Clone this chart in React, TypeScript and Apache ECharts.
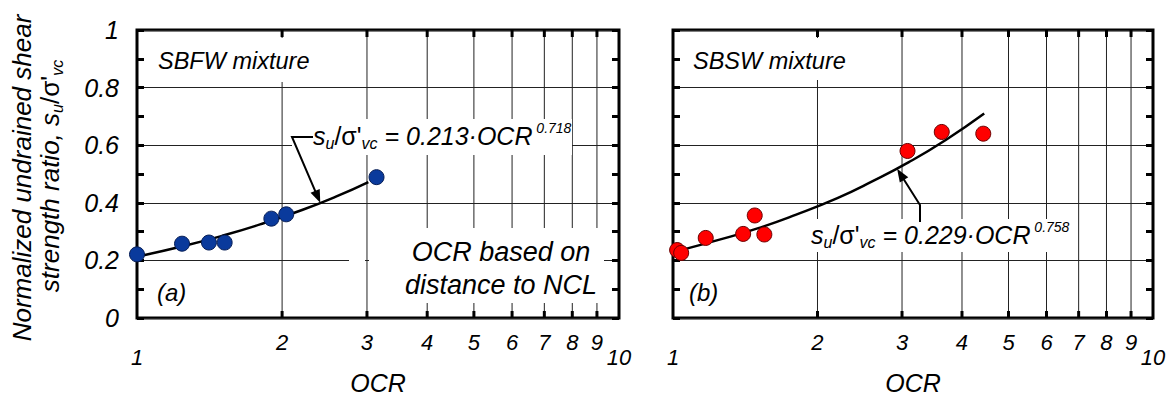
import React, { useEffect, useRef } from 'react';
import * as echarts from 'echarts';

const FONT = '"Liberation Sans", Arial, Helvetica, sans-serif';

// Panel (a): SBFW mixture
const sbfwOCR = [1.0, 1.24, 1.41, 1.52, 1.9, 2.04, 3.14];
const sbfwRatio = [0.221, 0.258, 0.262, 0.262, 0.345, 0.36, 0.489];
const sbfwFitOCR = [1.0, 1.25, 1.5, 1.8, 2.2, 2.6, 3.02];
const sbfwFitRatio = [0.213, 0.25, 0.285, 0.325, 0.375, 0.423, 0.472];

// Panel (b): SBSW mixture
const sbswOCR = [1.02, 1.04, 1.17, 1.4, 1.48, 1.55, 3.08, 3.63, 4.43];
const sbswRatio = [0.236, 0.226, 0.278, 0.292, 0.356, 0.29, 0.58, 0.646, 0.64];
const sbswFitOCR = [1.03, 1.25, 1.5, 1.8, 2.2, 2.6, 3.1, 3.7, 4.45];
const sbswFitRatio = [0.234, 0.272, 0.311, 0.358, 0.416, 0.474, 0.541, 0.618, 0.71];

// Axes
const xTickValues = [1, 2, 3, 4, 5, 6, 7, 8, 9, 10];
const xMin = 1;
const xMax = 10;
const yMin = 0;
const yMax = 1;
const yInterval = 0.2;

// arrow tips on the fit curves (OCR, ratio)
const arrowTipA = [2.4, 0.4];
const arrowTipB = [2.93, 0.518];

const zip = (a: number[], b: number[]) => a.map((v, i) => [v, b[i]]);

function xGridSeries(g: number) {
  return {
    type: 'custom',
    xAxisIndex: g,
    yAxisIndex: g * 2,
    clip: false,
    silent: true,
    z: 1,
    data: xTickValues.map((v) => [v, 0]),
    renderItem: (_params: any, api: any) => {
      const v = api.value(0);
      const bot = api.coord([v, yMin]);
      const top = api.coord([v, yMax]);
      const children: any[] = [];
      if (v > xMin && v < xMax) {
        children.push({
          type: 'line',
          shape: { x1: bot[0], y1: bot[1], x2: top[0], y2: top[1] },
          style: { stroke: '#222', lineWidth: 1 },
        });
        children.push({
          type: 'line',
          shape: { x1: bot[0], y1: bot[1], x2: bot[0], y2: bot[1] - 7 },
          style: { stroke: '#000', lineWidth: 3 },
        });
        children.push({
          type: 'line',
          shape: { x1: top[0], y1: top[1], x2: top[0], y2: top[1] + 7 },
          style: { stroke: '#000', lineWidth: 3 },
        });
      }
      const lower = v === xMin || v === xMax;
      children.push({
        type: 'text',
        x: bot[0],
        y: bot[1] + (lower ? 39 : 24),
        style: {
          text: String(v),
          fill: '#000',
          fontSize: 22,
          fontStyle: 'italic',
          fontFamily: FONT,
          align: 'center',
          verticalAlign: 'middle',
        },
      });
      return { type: 'group', children };
    },
  };
}

function yAxisDef(g: number, side: 'left' | 'right', labels: boolean) {
  return {
    gridIndex: g,
    type: 'value',
    min: yMin,
    max: yMax,
    interval: yInterval,
    position: side,
    axisLine: { show: false },
    axisTick: { show: true, inside: true, length: 7, lineStyle: { color: '#000', width: 3 } },
    minorTick: { show: true, splitNumber: 2, length: 7, lineStyle: { color: '#000', width: 3 } },
    axisLabel: {
      show: labels,
      color: '#000',
      fontSize: 25,
      fontStyle: 'italic',
      fontFamily: FONT,
      margin: 18,
    },
    splitLine: { show: side === 'left', lineStyle: { color: '#222', width: 1 } },
  };
}

function xAxisDef(g: number) {
  return {
    gridIndex: g,
    type: 'log',
    logBase: 10,
    min: xMin,
    max: xMax,
    axisLine: { show: false },
    axisTick: { show: false },
    axisLabel: { show: false },
    splitLine: { show: false },
  };
}

const richEq = (size: number) => ({
  i: { fontSize: size, fontStyle: 'italic', fontFamily: FONT, fill: '#000', lineHeight: 30 },
  n: { fontSize: size, fontStyle: 'normal', fontFamily: FONT, fill: '#000', lineHeight: 30 },
  sub: { fontSize: 16, fontStyle: 'italic', fontFamily: FONT, fill: '#000', lineHeight: 15, verticalAlign: 'bottom' },
  sup: { fontSize: 14, fontStyle: 'italic', fontFamily: FONT, fill: '#000', lineHeight: 13, verticalAlign: 'top' },
});

function buildOption() {
  return {
    animation: false,
    backgroundColor: '#fff',
    grid: [
      { left: 137, top: 30, width: 482, height: 288, show: true, borderColor: '#000', borderWidth: 3, containLabel: false },
      { left: 673, top: 30, width: 480, height: 288, show: true, borderColor: '#000', borderWidth: 3, containLabel: false },
    ],
    xAxis: [xAxisDef(0), xAxisDef(1)],
    yAxis: [
      yAxisDef(0, 'left', true),
      yAxisDef(0, 'right', false),
      yAxisDef(1, 'left', false),
      yAxisDef(1, 'right', false),
    ],
    series: [
      xGridSeries(0),
      xGridSeries(1),
      {
        type: 'line',
        xAxisIndex: 0,
        yAxisIndex: 0,
        data: zip(sbfwFitOCR, sbfwFitRatio),
        smooth: 0.5,
        showSymbol: false,
        lineStyle: { color: '#000', width: 2.5 },
        z: 70,
        silent: true,
      },
      {
        type: 'line',
        xAxisIndex: 1,
        yAxisIndex: 2,
        data: zip(sbswFitOCR, sbswFitRatio),
        smooth: 0.5,
        showSymbol: false,
        lineStyle: { color: '#000', width: 2.5 },
        z: 70,
        silent: true,
      },
      {
        type: 'scatter',
        xAxisIndex: 0,
        yAxisIndex: 0,
        data: zip(sbfwOCR, sbfwRatio),
        symbolSize: 15,
        itemStyle: { color: '#0a3a9c', borderColor: '#061d55', borderWidth: 1, opacity: 1 },
        z: 80,
        silent: true,
      },
      {
        type: 'scatter',
        xAxisIndex: 1,
        yAxisIndex: 2,
        data: zip(sbswOCR, sbswRatio),
        symbolSize: 15,
        itemStyle: { color: '#ff0000', borderColor: '#6b0000', borderWidth: 1, opacity: 1 },
        z: 80,
        silent: true,
      },
    ],
  };
}

function arrow(points: number[][], z: number) {
  const n = points.length;
  const tip = points[n - 1];
  const prev = points[n - 2];
  const dx = tip[0] - prev[0];
  const dy = tip[1] - prev[1];
  const len = Math.sqrt(dx * dx + dy * dy);
  const ux = dx / len;
  const uy = dy / len;
  const hl = 13;
  const hw = 5;
  const bx = tip[0] - ux * hl;
  const by = tip[1] - uy * hl;
  const body = points.slice(0, n - 1).concat([[bx + ux * 3, by + uy * 3]]);
  return [
    { type: 'polyline', z, silent: true, shape: { points: body }, style: { stroke: '#000', lineWidth: 2, fill: null } },
    {
      type: 'polygon',
      z,
      silent: true,
      shape: { points: [tip, [bx - uy * hw, by + ux * hw], [bx + uy * hw, by - ux * hw]] },
      style: { fill: '#000' },
    },
  ];
}

const mask = (x: number, y: number, w: number, h: number) => ({
  type: 'rect',
  z: 50,
  silent: true,
  shape: { x, y, width: w, height: h },
  style: { fill: '#fff' },
});

const txt = (x: number, y: number, text: string, size: number, extra: any = {}) => ({
  type: 'text',
  z: 60,
  silent: true,
  x,
  y,
  style: {
    text,
    fill: '#000',
    fontSize: size,
    fontStyle: 'italic',
    fontFamily: FONT,
    align: 'left',
    verticalAlign: 'middle',
    ...extra,
  },
});

export default function App() {
  const ref = useRef<HTMLDivElement>(null);
  useEffect(() => {
    const el = ref.current as HTMLDivElement;
    const chart = echarts.init(el, undefined, { renderer: 'svg' });
    chart.setOption(buildOption() as any);

    const tipA = chart.convertToPixel({ xAxisIndex: 0, yAxisIndex: 0 } as any, arrowTipA) as number[];
    const tipB = chart.convertToPixel({ xAxisIndex: 1, yAxisIndex: 2 } as any, arrowTipB) as number[];

    const elements: any[] = [
      // masks (white boxes behind labels, as in the original)
      mask(150, 38, 172, 44),
      mask(292, 119, 280, 36),
      mask(396, 228, 208, 75),
      mask(349, 256, 16, 8),
      mask(369, 256, 30, 8),
      mask(686, 38, 162, 42),
      mask(806, 219, 266, 33),
      // panel labels
      txt(158, 61, 'SBFW mixture', 23.5),
      txt(693, 61, 'SBSW mixture', 23.5),
      txt(157, 292, '(a)', 24),
      txt(689, 292, '(b)', 24),
      txt(501, 252, 'OCR based on', 27, { align: 'center' }),
      txt(501, 285, 'distance to NCL', 27, { align: 'center' }),
      // equations
      {
        type: 'text',
        z: 60,
        silent: true,
        x: 313,
        y: 136,
        style: {
          text: "{i|s}{sub|u}{n|/σ'}{sub|vc}{i| = 0.213·OCR}{sup| 0.718}",
          rich: richEq(25),
          fill: '#000',
          fontFamily: FONT,
          align: 'left',
          verticalAlign: 'middle',
        },
      },
      {
        type: 'text',
        z: 60,
        silent: true,
        x: 811,
        y: 235,
        style: {
          text: "{i|s}{sub|u}{n|/σ'}{sub|vc}{i| = 0.229·OCR}{sup| 0.758}",
          rich: richEq(25),
          fill: '#000',
          fontFamily: FONT,
          align: 'left',
          verticalAlign: 'middle',
        },
      },
      // axis titles
      txt(378, 383, 'OCR', 25, { align: 'center' }),
      txt(913, 383, 'OCR', 25, { align: 'center' }),
      {
        type: 'text',
        z: 60,
        silent: true,
        x: 22,
        y: 178,
        rotation: Math.PI / 2,
        style: {
          text: 'Normalized undrained shear',
          fill: '#000',
          fontSize: 26,
          fontStyle: 'italic',
          fontFamily: FONT,
          align: 'center',
          verticalAlign: 'middle',
        },
      },
      {
        type: 'text',
        z: 60,
        silent: true,
        x: 50,
        y: 176,
        rotation: Math.PI / 2,
        style: {
          text: "{i|strength ratio, s}{sub|u}{n|/σ'}{sub|vc}",
          rich: {
            i: { fontSize: 26, fontStyle: 'italic', fontFamily: FONT, fill: '#000', lineHeight: 30 },
            n: { fontSize: 26, fontStyle: 'normal', fontFamily: FONT, fill: '#000', lineHeight: 30 },
            sub: { fontSize: 16, fontStyle: 'italic', fontFamily: FONT, fill: '#000', lineHeight: 15, verticalAlign: 'bottom' },
          },
          fill: '#000',
          fontFamily: FONT,
          align: 'center',
          verticalAlign: 'middle',
        },
      },
      // arrows
      ...arrow([[313, 137], [292, 137], tipA], 65),
      ...arrow([[920, 222], [920, 205], tipB], 65),
    ];
    chart.setOption({ graphic: { elements } } as any);
    return () => chart.dispose();
  }, []);
  return <div ref={ref} style={{ position: 'fixed', left: 0, top: 0, width: 1175, height: 398 }} />;
}
